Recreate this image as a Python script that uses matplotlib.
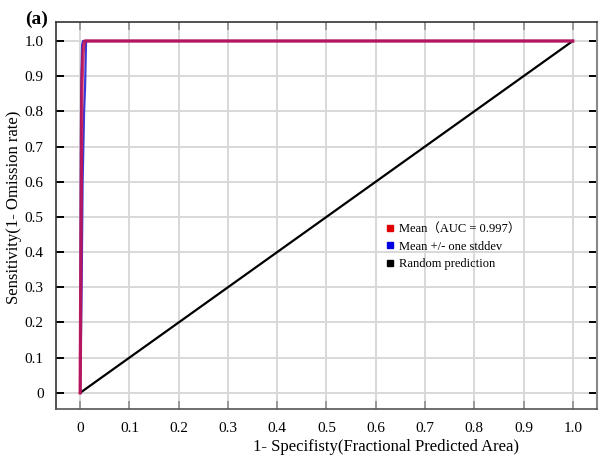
import matplotlib
matplotlib.use("Agg")
import matplotlib.pyplot as plt
from matplotlib.lines import Line2D

# Data
mean_x = [0.0, 0.002, 0.003, 0.004, 0.006, 0.008, 0.010, 1.0]
mean_y = [0.0, 0.50, 0.80, 0.90, 0.97, 0.995, 1.0, 1.0]
upper_x = [0.0, 0.0005, 0.001, 0.002, 0.004, 0.006, 1.0]
upper_y = [0.0, 0.30, 0.50, 0.86, 0.99, 1.0, 1.0]
lower_x = [0.0, 0.003, 0.005, 0.008, 0.010, 0.012, 1.0]
lower_y = [0.0, 0.30, 0.60, 0.80, 0.87, 1.0, 1.0]
rand_x = [0.0, 1.0]
rand_y = [0.0, 1.0]
xticks = [0, 0.1, 0.2, 0.3, 0.4, 0.5, 0.6, 0.7, 0.8, 0.9, 1.0]
xticklabels = ["0", "0.1", "0.2", "0.3", "0.4", "0.5", "0.6", "0.7", "0.8", "0.9", "1.0"]
yticks = [0, 0.1, 0.2, 0.3, 0.4, 0.5, 0.6, 0.7, 0.8, 0.9, 1.0]
yticklabels = ["0", "0.1", "0.2", "0.3", "0.4", "0.5", "0.6", "0.7", "0.8", "0.9", "1.0"]
legend_labels = ["Mean（AUC = 0.997）", "Mean +/- one stddev", "Random prediction"]

plt.rcParams['font.family'] = ['Liberation Serif', 'Noto Sans CJK SC']

fig = plt.figure(figsize=(6.01, 4.62), dpi=100)
ax = fig.add_axes([0.0932, 0.1147, 0.900, 0.8377])

ax.set_xlim(-0.049, 1.049)
ax.set_ylim(-0.046, 1.054)

ax.grid(True, color='#d8d8d8', lw=1.4, zorder=0)
ax.set_axisbelow(True)

ax.plot(rand_x, rand_y, color='black', lw=1.6, zorder=2)
ax.plot(upper_x, upper_y, color='#3a3ad8', lw=1.6, zorder=3)
ax.plot(lower_x, lower_y, color='#3a3ad8', lw=1.6, zorder=3)
ax.plot(mean_x, mean_y, color='#c8104c', lw=2.4, alpha=0.85, zorder=4)

ax.set_xticks(xticks)
ax.set_xticklabels(xticklabels)
ax.set_yticks(yticks)
ax.set_yticklabels(yticklabels)
ax.tick_params(axis='both', direction='in', length=6, width=1.4, labelsize=11)
ax.tick_params(axis='x', colors='#999999', labelcolor='black', pad=9, top=True)
ax.tick_params(axis='y', colors='black', labelcolor='black', pad=9, right=True)

for s in ['left', 'bottom', 'top']:
    ax.spines[s].set_color('#333333')
    ax.spines[s].set_linewidth(1.2)
ax.spines['right'].set_color('#888888')
ax.spines['right'].set_linewidth(1.5)
ax.spines['bottom'].set_color('#555555')

ax.set_xlabel("1- Specifisty(Fractional Predicted Area)", fontsize=12)
ax.set_ylabel("Sensitivity(1- Omission rate)", fontsize=12)
ax.xaxis.set_label_coords(0.61, -0.098)
ax.xaxis.label.set_va('center')
ax.yaxis.set_label_coords(-0.078, 0.52)
ax.yaxis.label.set_va('center')

handles = [Line2D([], [], marker='s', ls='none', color=c, markersize=4)
           for c in ['#e00000', '#0000e0', '#000000']]
fig.legend(handles, legend_labels, loc='upper left', bbox_to_anchor=(0.632, 0.528),
           frameon=False, fontsize=9, handletextpad=0.3, handlelength=0.8,
           labelspacing=0.45, borderaxespad=0)

fig.text(0.042, 0.976, "(a)", fontsize=14, fontweight='bold', va='top', ha='left')

fig.savefig("out.png", dpi=100)
